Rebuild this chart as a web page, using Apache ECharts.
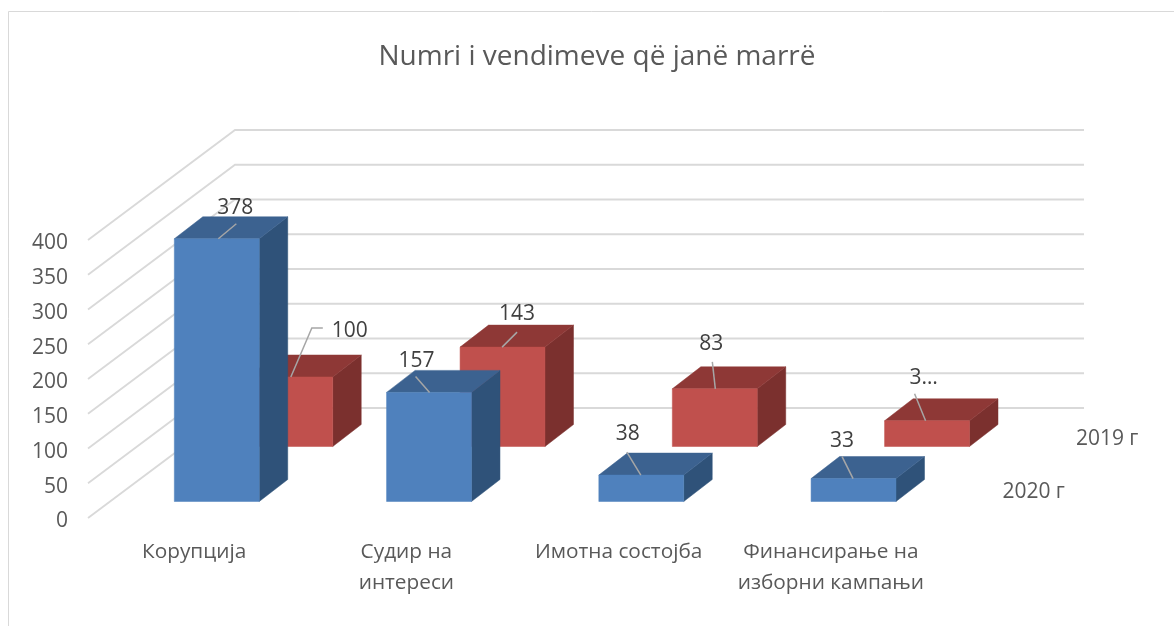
<!DOCTYPE html>
<html>
<head>
<meta charset="utf-8">
<script src="https://cdn.jsdelivr.net/npm/echarts@6/dist/echarts.min.js"></script>
<style>html,body{margin:0;padding:0;background:#fff}#c{width:1174px;height:626px}</style>
</head>
<body>
<div id="c"></div>
<script>
const titleText = 'Numri i vendimeve që janë marrë';
const categories = ['Корупција', 'Судир на\nинтереси', 'Имотна состојба', 'Финансирање на\nизборни кампањи'];
const seriesBlueName = '2020 г';
const seriesRedName = '2019 г';
const blueValues = [378, 157, 38, 33];
const redValues = [100, 143, 83, 37];
const blueLabels = ['378', '157', '38', '33'];
const redLabels = ['100', '143', '83', '3…'];
const axisTicks = [0, 50, 100, 150, 200, 250, 300, 350, 400];

// leader geometry: points relative to the top-front-left corner of each bar, then label centre
const blueLeaders = [
  { pts: [[44, 0], [62, -15]], text: [61, -31] },
  { pts: [[43, 0], [29, -16]], text: [30, -31] },
  { pts: [[42, 0], [28, -23]], text: [29, -41] },
  { pts: [[42, 0], [31, -22]], text: [31, -38] }
];
const redLeaders = [
  { pts: [[43, 0], [64, -49], [75, -49]], text: [102, -46] },
  { pts: [[42, 0], [57, -15]], text: [57, -33] },
  { pts: [[43, 0], [40, -27]], text: [39, -45] },
  { pts: [[41, 0], [30, -27]], text: [39, -43] }
];

const DEPTH_X = 147, DEPTH_Y = 110;       // 3D floor offset
const BAR_FRAC = 0.4, BAR_DX = 28.5, BAR_DY = 22;

function poly(points, fill) {
  return { type: 'polygon', shape: { points }, style: { fill, stroke: fill, lineWidth: 0.5 } };
}

function barRenderer(opts) {
  return function (params, api) {
    const i = api.value(0), v = api.value(1);
    const top = api.coord([i, v]), base = api.coord([i, 0]);
    const band = api.size([1, 0])[0];
    const w = band * BAR_FRAC;
    const ox = DEPTH_X * opts.depth + 0.6, oy = DEPTH_Y * opts.depth;
    const x0 = base[0] + ox - w / 2, x1 = x0 + w;
    const yb = base[1] - oy, yt = top[1] - oy;
    const dx = BAR_DX, dy = BAR_DY;
    const children = [
      poly([[x1, yt], [x1 + dx, yt - dy], [x1 + dx, yb - dy], [x1, yb]], opts.side),
      poly([[x0, yt], [x0 + dx, yt - dy], [x1 + dx, yt - dy], [x1, yt]], opts.top),
      poly([[x0, yt], [x1, yt], [x1, yb], [x0, yb]], opts.front)
    ];
    const lead = opts.leaders[params.dataIndex];
    children.push({
      type: 'polyline',
      shape: { points: lead.pts.map(p => [x0 + p[0], yt + p[1]]) },
      style: { stroke: '#a6a6a6', lineWidth: 1.5, fill: 'none' }
    });
    children.push({
      type: 'text',
      x: x0 + lead.text[0], y: yt + lead.text[1],
      style: { text: opts.labels[params.dataIndex], fill: '#404040', font: '21px "Open Sans"', align: 'center', verticalAlign: 'middle' }
    });
    if (params.dataIndex === categories.length - 1) {
      children.push({
        type: 'text',
        x: base[0] + band / 2 + ox + 74, y: yb - opts.nameLift,
        style: { text: opts.name, fill: '#595959', font: '21px "Open Sans"', align: 'center', verticalAlign: 'middle' }
      });
    }
    return { type: 'group', children };
  };
}

function wallRenderer(params, api) {
  const v = api.value(0);
  const left = api.coord([0, v]);
  const band = api.size([1, 0])[0];
  const x0 = left[0] - band / 2, y = left[1];
  const x1 = x0 + band * categories.length;
  return {
    type: 'polyline',
    shape: { points: [[x0, y], [x0 + DEPTH_X, y - DEPTH_Y], [x1 + DEPTH_X, y - DEPTH_Y]] },
    style: { stroke: '#d9d9d9', lineWidth: 1.8, fill: 'none' }
  };
}

const chart = echarts.init(document.getElementById('c'), null, { renderer: 'canvas' });
chart.setOption({
  animation: false,
  backgroundColor: '#ffffff',
  title: {
    text: titleText, left: 592, top: 38, textAlign: 'center',
    textStyle: { fontFamily: 'Open Sans', fontSize: 28, fontWeight: 'normal', color: '#595959' }
  },
  graphic: [
    { type: 'polyline', shape: { points: [[8.5, 626], [8.5, 11.5], [1174, 11.5]] }, style: { stroke: '#d9d9d9', lineWidth: 1, fill: 'none' } }
  ],
  grid: { left: 88, top: 240, width: 849, height: 278, containLabel: false },
  xAxis: {
    type: 'category', data: categories,
    axisLine: { show: false }, axisTick: { show: false }, splitLine: { show: false },
    axisLabel: { interval: 0, margin: 19, fontFamily: 'Open Sans', fontSize: 20.8, lineHeight: 31, color: '#595959' }
  },
  yAxis: {
    type: 'value', min: 0, max: 400, interval: 50,
    axisLine: { show: false }, axisTick: { show: false }, splitLine: { show: false },
    axisLabel: {
      margin: 20, formatter: '{v|{value}}',
      rich: { v: { fontFamily: 'Open Sans', fontSize: 21, color: '#595959', padding: [7, 0, 0, 0] } }
    }
  },
  series: [
    { type: 'custom', name: 'wall', coordinateSystem: 'cartesian2d', renderItem: wallRenderer, data: axisTicks.map(t => [t]), encode: { y: 0 }, z: 1, silent: true },
    {
      type: 'custom', name: seriesRedName, coordinateSystem: 'cartesian2d', z: 2, encode: { x: 0, y: 1 },
      data: redValues.map((v, i) => [i, v]),
      renderItem: barRenderer({ depth: 0.65, front: '#C0504D', top: '#8E3836', side: '#7B302E', leaders: redLeaders, labels: redLabels, name: seriesRedName, nameLift: 7 })
    },
    {
      type: 'custom', name: seriesBlueName, coordinateSystem: 'cartesian2d', z: 3, encode: { x: 0, y: 1 },
      data: blueValues.map((v, i) => [i, v]),
      renderItem: barRenderer({ depth: 0.15, front: '#4F81BD', top: '#3C6290', side: '#2F5279', leaders: blueLeaders, labels: blueLabels, name: seriesBlueName, nameLift: 9 })
    }
  ]
});
</script>
</body>
</html>
